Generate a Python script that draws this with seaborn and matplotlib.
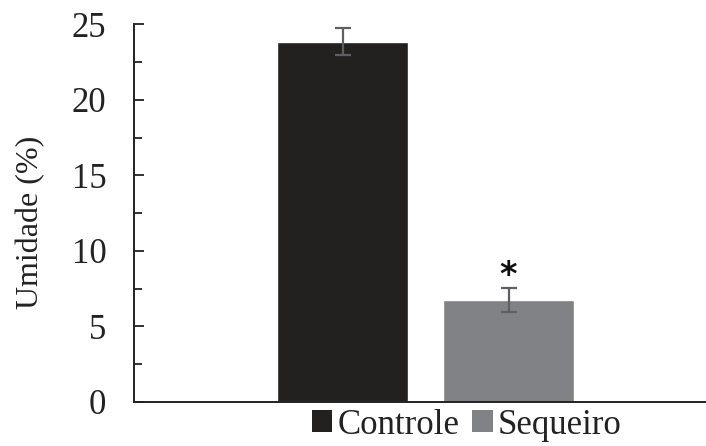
import matplotlib
matplotlib.use("Agg")
import matplotlib.pyplot as plt
import seaborn as sns
import pandas as pd
from matplotlib.patches import Patch

categories = ["Controle", "Sequeiro"]
values = [23.85, 6.75]
errors = [0.9, 0.8]
colors = ["#222120", "#818285"]
signif = ["", "*"]
yticks = [0, 5, 10, 15, 20, 25]
yminor = [2.5, 7.5, 12.5, 17.5, 22.5]

sns.set_theme(style="ticks")
plt.rcParams["font.family"] = ["Liberation Serif", "DejaVu Serif"]

df = pd.DataFrame({"grupo": categories, "umidade": values})

fig = plt.figure(figsize=(7.06, 4.46), dpi=100)
ax = fig.add_axes([0.19, 0.0987, 0.81, 0.847])

sns.barplot(data=df, x="grupo", y="umidade", hue="grupo", palette=colors,
            width=0.79, errorbar=None, legend=False, ax=ax, saturation=1)

ax.errorbar(range(len(categories)), values, yerr=errors, fmt="none",
            ecolor="#5f5f63", elinewidth=1.6, capsize=6, capthick=1.6)

for i, s in enumerate(signif):
    if s:
        ax.text(i, values[i] + errors[i] + 0.85, s, ha="center", va="center",
                fontsize=24, fontweight="bold", family="DejaVu Sans", color="#111111")

ax.set_ylim(0, 25)
ax.set_xlim(-1.256, 2.19)
ax.set_yticks(yticks)
ax.set_yticks(yminor, minor=True)
ax.tick_params(axis="y", which="major", direction="in", length=7.5, width=1.3,
               labelsize=25, pad=20, colors="#222222")
ax.tick_params(axis="y", which="minor", direction="in", length=5.5, width=1.3,
               colors="#222222")
ax.tick_params(axis="x", which="both", bottom=False, labelbottom=False)
ax.set_xlabel("")
ax.set_ylabel("Umidade (%)", fontsize=23, labelpad=19, color="#222222")
ax.yaxis.label.set_y(0.476)
for s in ["top", "right"]:
    ax.spines[s].set_visible(False)
for s in ["left", "bottom"]:
    ax.spines[s].set_linewidth(1.4)
    ax.spines[s].set_color("#222222")

handles = [Patch(facecolor=c, edgecolor="none") for c in colors]
fig.legend(handles, categories, loc="center", bbox_to_anchor=(0.661, 0.047),
           ncol=2, frameon=False, fontsize=25, handlelength=0.6, handleheight=0.6,
           handletextpad=0.15, columnspacing=0.35, labelcolor="#222222",
           borderpad=0.1)

fig.savefig("out.png", dpi=100)
